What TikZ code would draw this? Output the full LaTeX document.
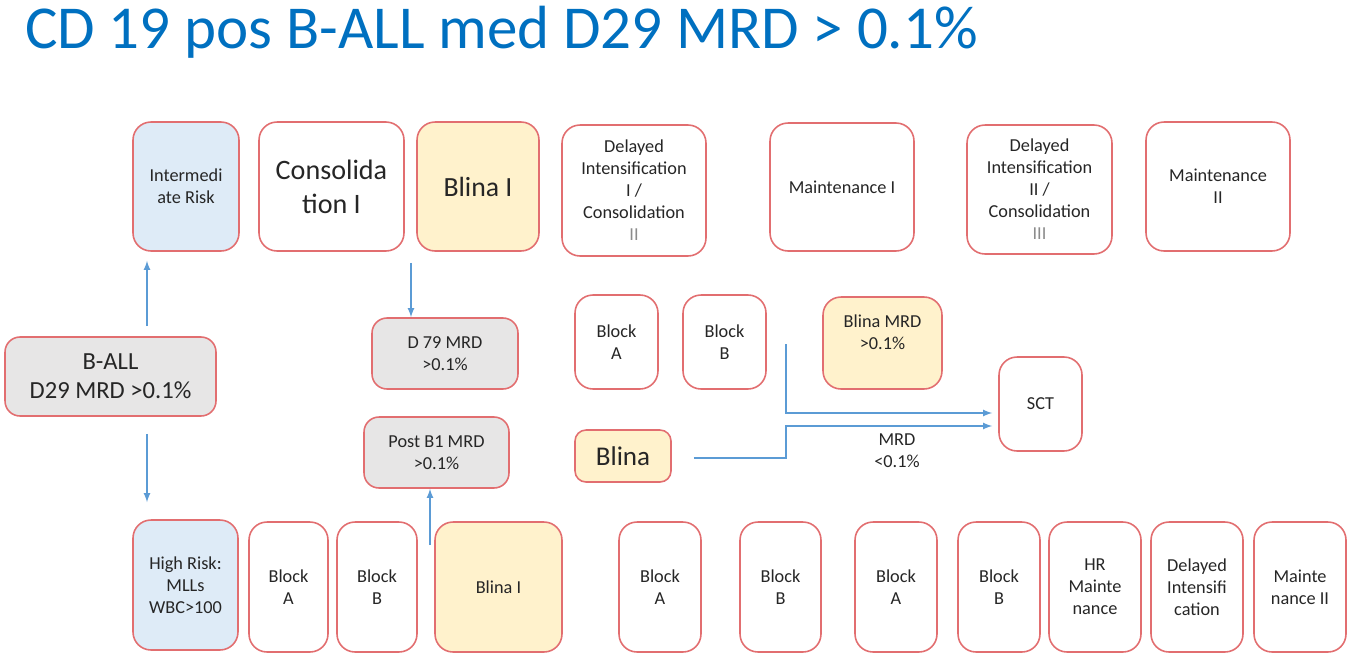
\documentclass[tikz,border=0pt]{standalone}
\usepackage{fontspec}
\setmainfont{Carlito}
\usetikzlibrary{positioning}
\usetikzlibrary{calc}

\definecolor{boxred}{RGB}{226,110,112}
\definecolor{riskblue}{RGB}{222,235,247}
\definecolor{blinayellow}{RGB}{255,242,204}
\definecolor{mrdgray}{RGB}{231,230,230}
\definecolor{flowblue}{RGB}{91,155,213}
\definecolor{titleblue}{RGB}{0,112,192}

\tikzset{
  phase/.style={draw=boxred, line width=0.9pt, rounded corners=0.36cm, fill=white,
    align=center, inner sep=1pt, text=black!85,
    font=\fontsize{10.4}{12.5}\selectfont},
  risk/.style={phase, fill=riskblue},
  blinabox/.style={phase, fill=blinayellow},
  mrdbox/.style={phase, fill=mrdgray, rounded corners=0.3cm},
  flow/.style={draw=flowblue, line width=0.8pt, -latex}
}

\begin{document}
\begin{tikzpicture}[x=0.02cm, y=-0.02cm]
  \useasboundingbox (0,0) rectangle (1351,660);

  \node[anchor=west, text=titleblue, font=\fontsize{34.7}{40}\selectfont] (title) at (19,32)
    {CD 19 pos B-ALL med D29 MRD > 0.1\%};

  \node[risk, minimum width=2.12cm, minimum height=2.58cm] (inter) at (186,186.5) {Intermedi\\ate Risk};
  \node[phase, minimum width=2.9cm, minimum height=2.58cm, font=\fontsize{16}{19.4}\selectfont] (consol) at (331.5,186.5) {Consolida\\tion I};
  \node[blinabox, minimum width=2.44cm, minimum height=2.58cm, font=\fontsize{15.8}{19}\selectfont] (blinaone) at (478,186.5) {Blina I};
  \node[phase, minimum width=2.88cm, minimum height=2.62cm] (delayone) at (634,190.5)
    {Delayed\\Intensification\\I /\\Consolidation\\\textcolor{black!45}{II}};
  \node[phase, minimum width=2.88cm, minimum height=2.56cm] (maintone) at (842,187) {Maintenance I};
  \node[phase, minimum width=2.9cm, minimum height=2.58cm] (delaytwo) at (1039.5,189.5)
    {Delayed\\Intensification\\II /\\Consolidation\\\textcolor{black!45}{III}};
  \node[phase, minimum width=2.88cm, minimum height=2.58cm] (mainttwo) at (1218,186.5) {Maintenance\\II};

  \node[mrdbox, minimum width=4.22cm, minimum height=1.58cm, font=\fontsize{14}{16.5}\selectfont] (ball) at (110.5,376.5) {B-ALL\\D29 MRD >0.1\%};
  \node[mrdbox, minimum width=2.92cm, minimum height=1.42cm] (dsev) at (445,353.5) {D 79 MRD\\>0.1\%};
  \node[mrdbox, minimum width=2.9cm, minimum height=1.42cm] (postb) at (436.5,452.5) {Post B1 MRD\\>0.1\%};

  \node[phase, minimum width=1.66cm, minimum height=1.88cm] (blka) at (616.5,342) {Block\\A};
  \node[phase, minimum width=1.66cm, minimum height=1.88cm] (blkb) at (724.5,342) {Block\\B};
  \node[blinabox, minimum width=2.38cm, minimum height=1.84cm] (blinamrd) at (882.5,343) {Blina MRD\\>0.1\%\\\mbox{}};
  \node[phase, minimum width=1.66cm, minimum height=1.88cm] (sct) at (1040.5,404) {SCT};
  \node[blinabox, minimum width=1.92cm, minimum height=1.04cm, rounded corners=0.22cm, font=\fontsize{15.4}{18}\selectfont] (blina) at (623,456) {Blina};
  \node[align=center, text=black!85, font=\fontsize{10.4}{12.5}\selectfont] (mrdlow) at (897,451) {MRD\\<0.1\%};

  \node[risk, minimum width=2.1cm, minimum height=2.6cm] (high) at (185.5,585) {High Risk:\\MLLs\\WBC>100};
  \node[phase, minimum width=1.58cm, minimum height=2.6cm] (hra) at (288.5,587) {Block\\A};
  \node[phase, minimum width=1.6cm, minimum height=2.6cm] (hrb) at (377,587) {Block\\B};
  \node[blinabox, minimum width=2.54cm, minimum height=2.6cm] (hrblina) at (498.5,587) {Blina I};
  \node[phase, minimum width=1.64cm, minimum height=2.6cm] (hra2) at (660,587) {Block\\A};
  \node[phase, minimum width=1.62cm, minimum height=2.6cm] (hrb2) at (780.5,587) {Block\\B};
  \node[phase, minimum width=1.64cm, minimum height=2.6cm] (hra3) at (896,587) {Block\\A};
  \node[phase, minimum width=1.64cm, minimum height=2.6cm] (hrb3) at (999,587) {Block\\B};
  \node[phase, minimum width=1.84cm, minimum height=2.6cm] (hrmaint) at (1095,587) {HR\\Mainte\\nance};
  \node[phase, minimum width=1.84cm, minimum height=2.6cm] (hrdelay) at (1197,587) {Delayed\\Intensifi\\cation};
  \node[phase, minimum width=1.84cm, minimum height=2.6cm] (hrmaint2) at (1300,587) {Mainte\\nance II};

  \coordinate (riskx) at (147,0);
  \coordinate (consx) at (411,0);
  \coordinate (blinastart) at (430,545);
  \coordinate (blockstart) at (786,344);
  \coordinate (bend) at (786,458);

  \draw[flow, shorten <=0.2cm, shorten >=0.18cm] (ball.north -| riskx) -- (inter.south -| riskx);
  \draw[flow, shorten <=0.34cm, shorten >=0.34cm] (ball.south -| riskx) -- (high.north -| riskx);
  \draw[flow, shorten <=0.22cm] (consol.south -| consx) -- (dsev.north -| consx);
  \draw[flow] (blinastart) -- (postb.south -| blinastart);
  \draw[flow, shorten >=0.12cm] (blockstart) |- ([yshift=-0.18cm]sct.west);
  \draw[flow, shorten >=0.12cm, shorten <=0.44cm] (blina.east |- bend) -- (bend) |- ([yshift=-0.44cm]sct.west);
\end{tikzpicture}
\end{document}
